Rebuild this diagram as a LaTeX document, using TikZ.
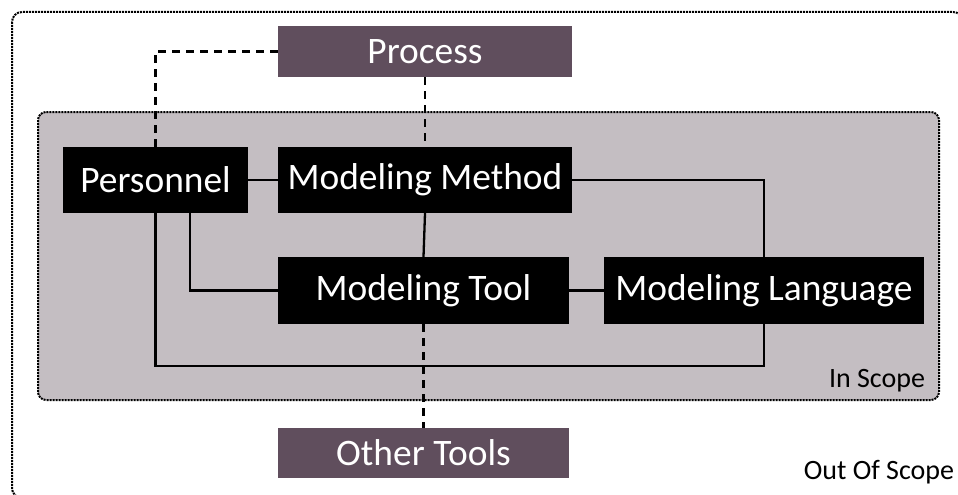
\documentclass[tikz,border=0pt]{standalone}
\usepackage{fontspec}
\setmainfont{Carlito}
\definecolor{plum}{HTML}{604E5D}
\definecolor{scopefill}{HTML}{C4BEC2}
\tikzset{
  blackbox/.style={fill=black, text=white, inner sep=0pt, font=\fontsize{37.4}{40}\selectfont},
  plumbox/.style={fill=plum, text=white, inner sep=0pt, font=\fontsize{37.4}{40}\selectfont},
  scopeline/.style={line width=2pt, dash pattern=on 2pt off 1pt},
  link/.style={line width=2.3pt},
  dlink/.style={line width=2.3pt, dash pattern=on 8pt off 6pt},
  scopelabel/.style={font=\fontsize{28}{30}\selectfont, inner sep=0pt}
}
\begin{document}
\begin{tikzpicture}[x=1pt,y=-1pt]
\useasboundingbox (0,0) rectangle (958,495);
\clip (0,0) rectangle (958,495);
\fill[white] (0,0) rectangle (958,495);
% scopes
\draw[scopeline, rounded corners=10pt] (12,12) rectangle (963,498);
\draw[scopeline, fill=scopefill, rounded corners=8pt] (38,112) rectangle (939,400);
\node[scopelabel] (inscope) at (877,381) {In Scope};
\node[scopelabel] (outscope) at (879,472) {Out Of Scope};
% nodes
\node[plumbox, minimum width=294pt, minimum height=51pt] (process) at (425,51.5) {Process};
\node[blackbox, minimum width=185pt, minimum height=66pt] (personnel) at (155.5,180) {Personnel};
\node[blackbox, minimum width=294pt, minimum height=66pt] (method) at (425,180) {Modeling Method};
\node[blackbox, minimum width=291pt, minimum height=67pt] (tool) at (423.5,290.5) {Modeling Tool};
\node[blackbox, minimum width=320pt, minimum height=67pt] (lang) at (764,290.5) {Modeling Language};
\node[plumbox, minimum width=291pt, minimum height=50pt] (other) at (423.5,453) {Other Tools};
\coordinate (loop) at (764,366);
% connectors
\draw[dlink] (process.west) -| (personnel.north);
\draw[dlink] (process.south) -- (method.north);
\draw[dlink] (tool.south) -- (other.north);
\draw[link] (personnel.east) -- (method.west);
\draw[link] (method.east) -| (lang.north);
\draw[link] (method.south) -- (tool.north);
\draw[link] ([xshift=34.5pt]personnel.south) |- (tool.west);
\draw[link] (personnel.south) |- (loop) -- (lang.south);
\draw[link] (tool.east) -- (lang.west);
\end{tikzpicture}
\end{document}
